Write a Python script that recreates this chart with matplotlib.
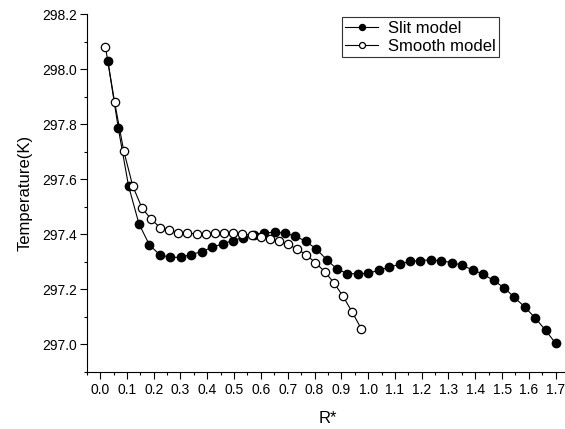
from matplotlib import pyplot
from matplotlib.ticker import MultipleLocator, FormatStrFormatter

# Slit model (filled circles)
slit_r = [0.029, 0.068, 0.106, 0.145, 0.184, 0.223, 0.262, 0.301, 0.340, 0.379,
          0.418, 0.457, 0.495, 0.534, 0.573, 0.612, 0.651, 0.690, 0.729, 0.768,
          0.807, 0.845, 0.884, 0.923, 0.962, 1.001, 1.040, 1.079, 1.118, 1.157,
          1.195, 1.234, 1.273, 1.312, 1.351, 1.390, 1.429, 1.468, 1.507, 1.545,
          1.584, 1.623, 1.662, 1.700]
slit_t = [298.030, 297.786, 297.577, 297.439, 297.362, 297.326, 297.317, 297.317, 297.327, 297.338,
          297.353, 297.366, 297.378, 297.389, 297.399, 297.406, 297.408, 297.405, 297.394, 297.375,
          297.347, 297.309, 297.274, 297.258, 297.257, 297.259, 297.270, 297.281, 297.292, 297.303,
          297.305, 297.308, 297.304, 297.298, 297.288, 297.271, 297.256, 297.233, 297.207, 297.172,
          297.137, 297.097, 297.052, 297.004]

# Smooth model (open circles)
smooth_r = [0.020, 0.054, 0.088, 0.122, 0.156, 0.190, 0.224, 0.258, 0.292, 0.326,
            0.360, 0.394, 0.429, 0.463, 0.497, 0.531, 0.565, 0.599, 0.633, 0.667,
            0.701, 0.735, 0.769, 0.803, 0.838, 0.872, 0.906, 0.940, 0.974]
smooth_t = [298.082, 297.882, 297.705, 297.576, 297.497, 297.456, 297.425, 297.415, 297.407, 297.405,
            297.402, 297.403, 297.404, 297.404, 297.404, 297.403, 297.397, 297.391, 297.385, 297.376,
            297.364, 297.347, 297.326, 297.298, 297.265, 297.225, 297.176, 297.119, 297.058]

labels = ['Slit model', 'Smooth model']
x_ticks = [0.0, 0.1, 0.2, 0.3, 0.4, 0.5, 0.6, 0.7, 0.8, 0.9,
           1.0, 1.1, 1.2, 1.3, 1.4, 1.5, 1.6, 1.7]
y_ticks = [297.0, 297.2, 297.4, 297.6, 297.8, 298.0, 298.2]

pyplot.rcParams['font.family'] = ['Liberation Sans', 'DejaVu Sans']
pyplot.rcParams['axes.unicode_minus'] = False

fig = pyplot.figure(figsize=(5.65, 4.29), dpi=100)
axis = fig.add_axes([86.7 / 565, 57.0 / 429, 482.4 / 565, 357.5 / 429])

axis.plot(slit_r, slit_t, color='black', linewidth=0.8, marker='o', markersize=6,
          markerfacecolor='black', markeredgecolor='black', label=labels[0])
axis.plot(smooth_r, smooth_t, color='black', linewidth=0.8, marker='o', markersize=6,
          markerfacecolor='white', markeredgecolor='black', markeredgewidth=0.9, label=labels[1])

axis.set_xlim(-0.05, 1.75)
axis.set_ylim(296.9, 298.2)
axis.set_xticks(x_ticks)
axis.set_yticks(y_ticks)
axis.xaxis.set_minor_locator(MultipleLocator(0.05))
axis.yaxis.set_minor_locator(MultipleLocator(0.1))
axis.xaxis.set_major_formatter(FormatStrFormatter('%.1f'))
axis.yaxis.set_major_formatter(FormatStrFormatter('%.1f'))

axis.tick_params(which='major', direction='out', length=5, width=0.8, labelsize=10, pad=2)
axis.tick_params(which='minor', direction='out', length=2.5, width=0.8)
axis.tick_params(axis='x', which='major', pad=3)
axis.spines['top'].set_visible(False)
axis.spines['right'].set_visible(False)
axis.spines['left'].set_linewidth(0.8)
axis.spines['bottom'].set_linewidth(0.8)

axis.set_xlabel('R*', fontsize=12, labelpad=10)
axis.set_ylabel('Temperature(K)', fontsize=12, labelpad=7)

legend = axis.legend(loc='upper left', bbox_to_anchor=(341.7 / 565, 1 - 17.3 / 429),
                     bbox_transform=fig.transFigure, borderaxespad=0,
                     fontsize=12, numpoints=1, markerscale=0.72,
                     handlelength=2.0, handletextpad=0.6, labelspacing=0.2,
                     borderpad=0.2, fancybox=False, framealpha=1, edgecolor='#333333')
legend.get_frame().set_linewidth(0.8)

fig.savefig('out.png', dpi=100)
pyplot.close(fig)
